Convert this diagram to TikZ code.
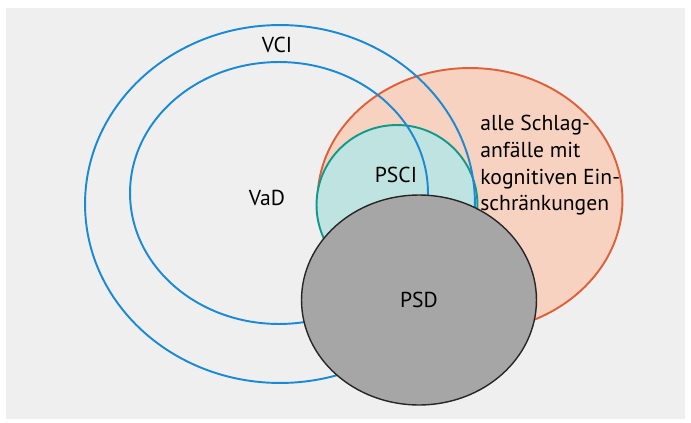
\documentclass[tikz,border=0pt]{standalone}
\usepackage{fontspec}
\setmainfont{PT Sans}
\usetikzlibrary{shapes.geometric}
\definecolor{bggray}{HTML}{EFEFEF}
\definecolor{vciblue}{HTML}{1A8AD4}
\definecolor{strokeline}{HTML}{E0603A}
\definecolor{strokefill}{HTML}{F7D2C0}
\definecolor{pscline}{HTML}{119A8C}
\definecolor{pscfill}{HTML}{BFE3E0}
\definecolor{psdfill}{HTML}{A6A6A6}
\begin{document}
\begin{tikzpicture}
            [x=0.02cm,y=-0.02cm,
             set/.style={ellipse,inner sep=0pt,line width=1.1pt},
             lbl/.style={inner sep=0pt,font=\fontsize{12.3}{15.2}\selectfont}]
            \useasboundingbox (0,0) rectangle (691,423);
            \fill[bggray] (6,8) rectangle (685,419);
            % stroke patients and PSCI
            \node[set,draw=strokeline,fill=strokefill,minimum width=6.1cm,minimum height=5.28cm] (stroke) at (470,200) {};
            \node[set,draw=pscline,fill=pscfill,minimum width=3.22cm,minimum height=3.2cm] (psci) at (397,205) {};
            % vascular sets
            \node[set,draw=vciblue,minimum width=7.8cm,minimum height=7.16cm] (vci) at (280,204) {};
            \node[set,draw=vciblue,minimum width=5.96cm,minimum height=5.24cm] (vad) at (279,193) {};
            \node[set,draw=black!85,line width=0.8pt,fill=psdfill,minimum width=4.7cm,minimum height=4.2cm,lbl] (psd) at (419,300) {PSD};
            \node[lbl] (vcilabel) at (277,45) {VCI};
            \node[lbl] (vadlabel) at (267,198) {VaD};
            \node[lbl] (pscilabel) at (396,175) {PSCI};
            \node[lbl,anchor=north west,align=left] (strokelabel) at (480,115)
                {alle Schlag-\\anfälle mit\\kognitiven Ein-\\schränkungen};
\end{tikzpicture}
\end{document}
